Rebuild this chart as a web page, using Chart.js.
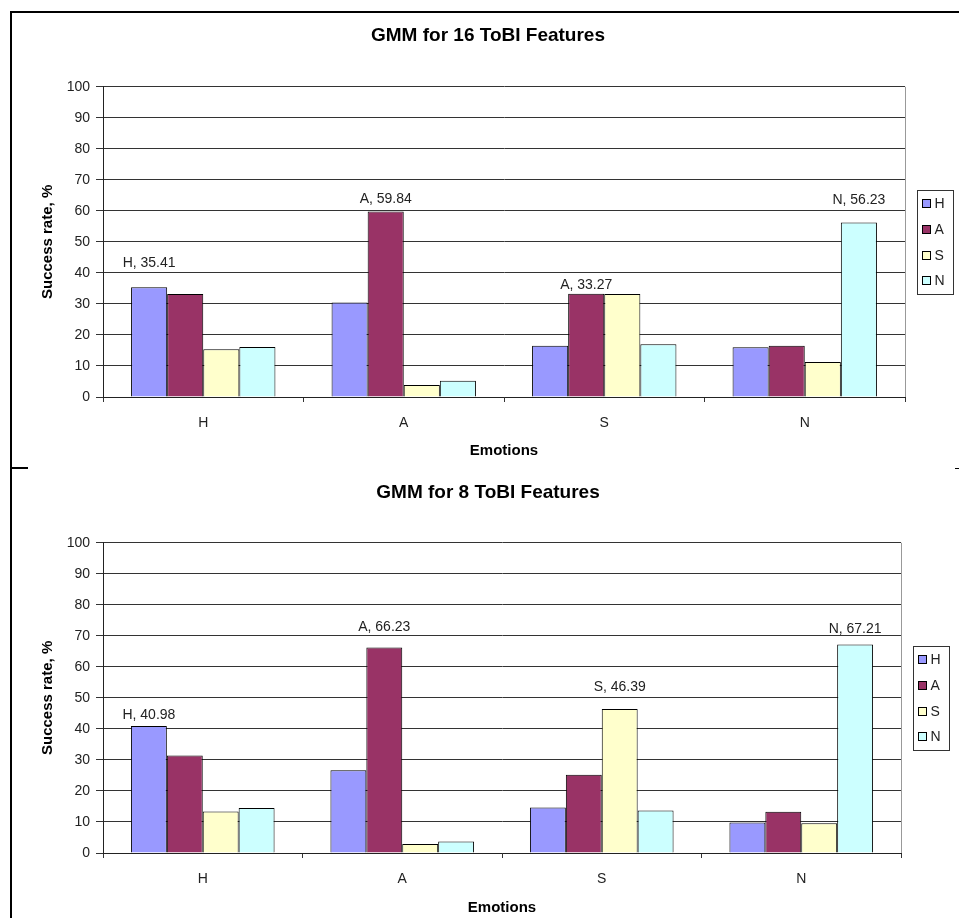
<!DOCTYPE html>
<html>
<head>
<meta charset="utf-8">
<title>GMM for ToBI Features</title>
<script src="https://cdn.jsdelivr.net/npm/chart.js@4.4.1/dist/chart.umd.min.js"></script>
<style>
  html, body { margin: 0; padding: 0; background: #fff; }
  body { width: 959px; height: 918px; position: relative; overflow: hidden; }
  canvas { position: absolute; left: 0; }
  #c16 { top: 0; }
  #c8 { top: 459px; }
  .rule { position: absolute; background: #000; }
</style>
</head>
<body>
<div class="rule" style="left:10px;top:11px;width:949px;height:2px"></div>
<div class="rule" style="left:10px;top:11px;width:2px;height:907px"></div>
<div class="rule" style="left:10px;top:467px;width:18px;height:2px"></div>
<div class="rule" style="left:955px;top:468px;width:4px;height:1px"></div>
<canvas id="c16" width="959" height="459"></canvas>
<canvas id="c8" width="959" height="459"></canvas>
<script>
// Emotion classes on the x axis, and the recognised emotion series
const emotions = ['H', 'A', 'S', 'N'];
const seriesNames = ['H', 'A', 'S', 'N'];
const seriesColors = ['#9999FF', '#993366', '#FFFFCC', '#CCFFFF'];
const yTicks = [0, 10, 20, 30, 40, 50, 60, 70, 80, 90, 100];

// GMM, 16 ToBI features: success rate (%) per series over H, A, S, N
const tobi16H = [35.41, 30.5, 16.5, 16.0];
const tobi16A = [33.2, 59.84, 33.27, 16.5];
const tobi16S = [15.4, 3.9, 33.2, 11.3];
const tobi16N = [16.1, 5.2, 17.0, 56.23];
// series index whose value is tagged in each emotion group
const tobi16Tagged = [0, 1, 1, 3];

// GMM, 8 ToBI features
const tobi8H = [40.98, 26.7, 14.7, 9.8];
const tobi8A = [31.4, 66.23, 25.2, 13.3];
const tobi8S = [13.4, 2.9, 46.39, 9.6];
const tobi8N = [14.5, 3.7, 13.7, 67.21];
const tobi8Tagged = [0, 1, 2, 3];

const FONT = 'Arial, "Liberation Sans", sans-serif';

// Value tags ("A, 59.84") above the leading bar of each group
const valueTags = {
  id: 'valueTags',
  afterDatasetsDraw(chart, args, opts) {
    const ctx = chart.ctx;
    ctx.save();
    ctx.font = '14px ' + FONT;
    ctx.fillStyle = '#222';
    ctx.textAlign = 'center';
    ctx.textBaseline = 'middle';
    opts.tagged.forEach((dsIndex, i) => {
      const bar = chart.getDatasetMeta(dsIndex).data[i];
      const value = chart.data.datasets[dsIndex].data[i];
      const text = chart.data.datasets[dsIndex].label + ', ' + value.toFixed(2);
      ctx.fillText(text, bar.x, bar.y - opts.lift[i]);
    });
    ctx.restore();
  }
};

// Framed legend to the right of the plot, plus the plot's right edge
const boxLegend = {
  id: 'boxLegend',
  afterDraw(chart, args, opts) {
    const ctx = chart.ctx;
    const area = chart.chartArea;
    ctx.save();
    ctx.strokeStyle = '#999';
    ctx.lineWidth = 1;
    ctx.beginPath();
    ctx.moveTo(Math.round(area.right) + 0.5, area.top);
    ctx.lineTo(Math.round(area.right) + 0.5, area.bottom);
    ctx.stroke();

    const ds = chart.data.datasets;
    const step = 25.7;
    const midY = (area.top + area.bottom) / 2;
    const left = Math.round(area.right + opts.gap) + 0.5;
    const boxH = step * ds.length + 1;
    const top = Math.round(midY - boxH / 2) + 0.5;
    ctx.strokeStyle = '#333';
    ctx.strokeRect(left, top, 36, Math.round(boxH));
    ctx.font = '14px ' + FONT;
    ctx.textBaseline = 'middle';
    ctx.textAlign = 'left';
    ds.forEach((d, i) => {
      const cy = midY + (i - (ds.length - 1) / 2) * step;
      const sy = Math.round(cy - 4) + 0.5;
      ctx.fillStyle = d.backgroundColor;
      ctx.fillRect(left + 5, sy, 8, 8);
      ctx.strokeStyle = '#000';
      ctx.strokeRect(left + 5, sy, 8, 8);
      ctx.fillStyle = '#222';
      ctx.fillText(d.label, left + 17, cy + 1);
    });
    ctx.restore();
  }
};

function buildChart(id, titleText, values, tagged, geo) {
  const datasets = seriesNames.map((name, k) => ({
    label: name,
    data: values[k],
    backgroundColor: seriesColors[k],
    borderColor: '#000',
    borderWidth: 1,
    borderSkipped: 'start',
    categoryPercentage: 0.72,
    barPercentage: 1.0
  }));
  return new Chart(document.getElementById(id), {
    type: 'bar',
    data: { labels: emotions, datasets },
    plugins: [valueTags, boxLegend],
    options: {
      responsive: false,
      animation: false,
      events: [],
      layout: { padding: { left: 39, right: 22, top: 0, bottom: geo.bottom } },
      plugins: {
        legend: { display: false },
        tooltip: { enabled: false },
        title: {
          display: true,
          text: titleText,
          color: '#000',
          font: { family: FONT, size: 19, weight: 'bold' },
          padding: { top: geo.titleTop, bottom: geo.titleBottom }
        },
        valueTags: { tagged, lift: geo.lift },
        boxLegend: { gap: 12 }
      },
      scales: {
        x: {
          type: 'category',
          grid: {
            offset: true,
            drawOnChartArea: false,
            drawTicks: true,
            tickLength: 5,
            color: '#333'
          },
          border: { display: true, color: '#222', width: 1, z: 1 },
          ticks: { color: '#222', padding: 13, font: { family: FONT, size: 14 } },
          title: {
            display: true,
            text: 'Emotions',
            color: '#000',
            font: { family: FONT, size: 15, weight: 'bold' },
            padding: { top: 0, bottom: -1 }
          },
          afterFit(scale) { scale.height = geo.xHeight; }
        },
        y: {
          min: 0,
          max: 100,
          afterBuildTicks(scale) { scale.ticks = yTicks.map(v => ({ value: v })); },
          grid: { color: '#333', lineWidth: 1, tickLength: 7, drawTicks: true },
          border: { display: true, color: '#222', width: 1 },
          ticks: { color: '#222', padding: 6, font: { family: FONT, size: 14 } },
          title: {
            display: true,
            text: 'Success rate, %',
            color: '#000',
            font: { family: FONT, size: 15, weight: 'bold' },
            padding: { top: 0, bottom: 0 }
          },
          afterFit(scale) { scale.width = 64; }
        },
        // empty right-hand axis that keeps room for the legend frame
        side: {
          type: 'linear',
          position: 'right',
          display: true,
          min: 0,
          max: 100,
          grid: { display: false },
          border: { display: false },
          ticks: { display: false },
          afterFit(scale) { scale.width = geo.side; }
        }
      }
    }
  });
}

buildChart('c16', 'GMM for 16 ToBI Features',
  [tobi16H, tobi16A, tobi16S, tobi16N], tobi16Tagged,
  { side: 32, bottom: 0, titleTop: 24, titleBottom: 40, xHeight: 62, lift: [24, 12, 9, 22] });

buildChart('c8', 'GMM for 8 ToBI Features',
  [tobi8H, tobi8A, tobi8S, tobi8N], tobi8Tagged,
  { side: 36, bottom: 2, titleTop: 22, titleBottom: 39, xHeight: 63, lift: [11, 20, 22, 15] });
</script>
</body>
</html>
